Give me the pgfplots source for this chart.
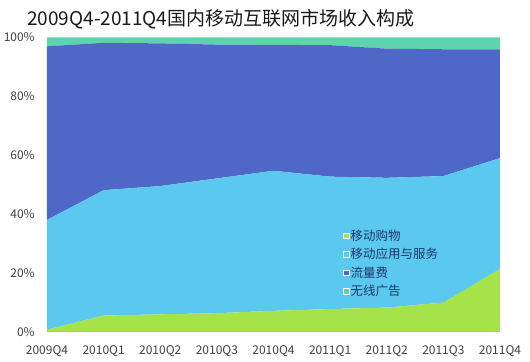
\documentclass[border=0pt]{standalone}
\usepackage{pgfplots}
\pgfplotsset{compat=1.18}
\usepackage{pgfplotstable}
\usepackage{fontspec}
\setmainfont{Noto Sans CJK SC}
\definecolor{cgreen}{HTML}{A6E34B}
\definecolor{clblue}{HTML}{5BC8F0}
\definecolor{cdblue}{HTML}{4F67C6}
\definecolor{cteal}{HTML}{5DD3AE}
\definecolor{ctick}{HTML}{404040}
\definecolor{cleg}{HTML}{1F3864}
\pgfplotstableread{
x gou ying liu guang
0 0.7 37.3 59.0 3.0
1 5.5 42.6 50.1 1.8
2 5.9 43.6 48.5 2.0
3 6.3 45.8 45.5 2.4
4 7.1 47.6 42.8 2.5
5 7.7 45.0 44.7 2.6
6 8.2 44.1 43.9 3.8
7 9.9 43.0 43.1 4.0
8 21.3 37.7 37.0 4.0
}\datatable
\begin{document}
\begin{tikzpicture}
\useasboundingbox (-47bp,-30.3bp) rectangle (483bp,331.7bp);
\begin{axis}[
  at={(0,0)}, anchor=south west,
  scale only axis, width=453bp, height=294.2bp,
  xmin=0, xmax=8, ymin=0, ymax=100,
  axis y line*=left,
  y axis line style={draw=none},
  axis x line*=bottom,
  x axis line style={draw=gray!70, line width=0.8pt, -},
  xtick=data,
  xticklabels={2009Q4,2010Q1,2010Q2,2010Q3,2010Q4,2011Q1,2011Q2,2011Q3,2011Q4},
  major tick length=0pt,
  ytick={0,20,40,60,80,100},
  yticklabel={\pgfmathprintnumber{\tick}\%},
  /pgf/number format/assume math mode=true,
  tick label style={font=\fontsize{12bp}{14bp}\selectfont, text=ctick},
  yticklabel style={inner sep=0pt, anchor=east, xshift=-12bp},
  xticklabel style={inner sep=0pt, anchor=base, yshift=-22.7bp},
  stack plots=y,
  clip=true,
  legend cell align=left,
  legend style={at={(0.653,0.352)}, anchor=north west, draw=none, fill=none,
    inner sep=0pt, row sep=3.4bp,
    font=\fontsize{12.5bp}{14bp}\selectfont, text=cleg,
    nodes={inner sep=1.5bp}},
  legend image code/.code={\filldraw[#1, draw=white!70!#1, line width=0.5bp] (0bp,-2.8bp) rectangle (5.6bp,2.8bp);},
]
\addplot[fill=cgreen, draw=none] table[x=x, y=gou] {\datatable} \closedcycle;
\addlegendentry{移动购物}
\addplot[fill=clblue, draw=none] table[x=x, y=ying] {\datatable} \closedcycle;
\addlegendentry{移动应用与服务}
\addplot[fill=cdblue, draw=none] table[x=x, y=liu] {\datatable} \closedcycle;
\addlegendentry{流量费}
\addplot[fill=cteal, draw=none] table[x=x, y=guang] {\datatable} \closedcycle;
\addlegendentry{无线广告}
\addplot[stack plots=false, draw=white!90!clblue, line width=1.1pt, forget plot] table[x=x, y expr=\thisrow{gou}] {\datatable};
\addplot[stack plots=false, draw=white!90!clblue, line width=1.1pt, forget plot] table[x=x, y expr=\thisrow{gou}+\thisrow{ying}] {\datatable};
\addplot[stack plots=false, draw=white!90!clblue, line width=1.1pt, forget plot] table[x=x, y expr=\thisrow{gou}+\thisrow{ying}+\thisrow{liu}] {\datatable};
\end{axis}
\node[anchor=base west, inner sep=0pt, font=\fontsize{19bp}{22bp}\selectfont, text=black!90] at (-20bp,306.2bp) {2009Q4-2011Q4国内移动互联网市场收入构成};
\end{tikzpicture}
\end{document}
